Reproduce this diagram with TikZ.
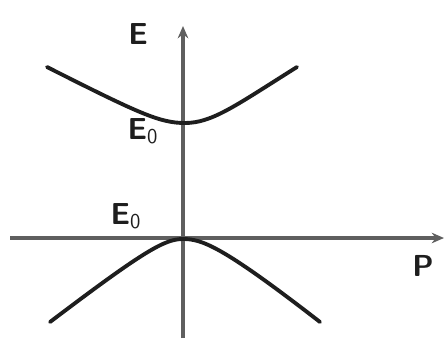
\documentclass[tikz,border=0pt]{standalone}
\usepackage{tikz}
\usetikzlibrary{arrows.meta, positioning, calc}
\definecolor{axisgray}{RGB}{95,95,95}
\definecolor{curvedark}{RGB}{30,30,30}
\tikzset{
  axis/.style={-{Stealth[length=7pt, width=6pt]}, line width=2.2pt, color=axisgray},
  branch/.style={line width=2.2pt, color=curvedark, line cap=round},
  lbl/.style={font=\sffamily\bfseries\LARGE, color=curvedark, inner sep=0pt}
}

\begin{document}
\begin{tikzpicture}[x=0.02cm, y=-0.02cm]
  \useasboundingbox (0,0) rectangle (446,338);

  % axes
  \coordinate (pmin) at (10,238);
  \coordinate (pmax) at (444,238);
  \coordinate (ebot) at (183,338);
  \coordinate (etop) at (183,26);
  \draw[axis] (pmin) -- (pmax);
  \draw[axis] (ebot) -- (etop);

  % upper branch
  \coordinate (uleft) at (47,67);
  \coordinate (uvert) at (185,123);
  \coordinate (uright) at (297,67);
  \draw[branch] (uleft) .. controls (140,114) and (160,123) .. (uvert)
    .. controls (212,123) and (235,106) .. (uright);

  % lower branch
  \coordinate (lleft) at (50,322);
  \coordinate (lvert) at (183,239);
  \coordinate (lright) at (320,322);
  \draw[branch] (lleft) .. controls (145,250) and (165,239) .. (lvert)
    .. controls (202,239) and (222,246) .. (lright);

  % labels
  \node[lbl] (elabel) at (138,34) {E};
  \node[lbl] (plabel) at (423,266) {P};
  \node[lbl] (eup) at (143,131) {E$_{\mathsf{0}}$};
  \node[lbl] (elow) at (126,216) {E$_{\mathsf{0}}$};
\end{tikzpicture}
\end{document}
